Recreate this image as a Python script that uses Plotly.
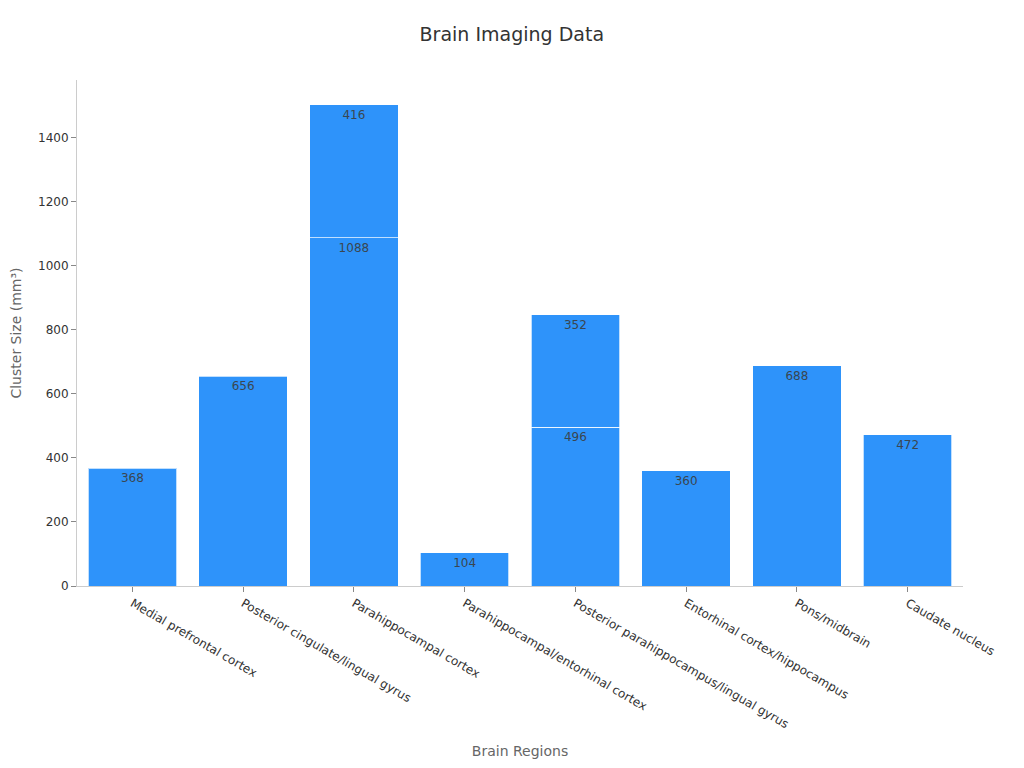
import plotly.graph_objects as go

regions = ["Medial prefrontal cortex", "Posterior cingulate/lingual gyrus",
           "Parahippocampal cortex", "Parahippocampal/entorhinal cortex",
           "Posterior parahippocampus/lingual gyrus", "Entorhinal cortex/hippocampus",
           "Pons/midbrain", "Caudate nucleus"]
cluster_a = [368, 656, 1088, 104, 496, 360, 688, 472]
cluster_b = [None, None, 416, None, 352, None, None, None]

bar_color = "#2e93fa"

fig = go.Figure()
for vals in (cluster_a, cluster_b):
    fig.add_trace(go.Bar(x=regions, y=vals,
                         marker_color=bar_color,
                         marker_line_color="rgba(255,255,255,0.7)",
                         marker_line_width=1,
                         text=vals,
                         textposition="inside",
                         insidetextanchor="end",
                         textangle=0,
                         textfont=dict(color="#3a4650", size=12),
                         showlegend=False))

# page has an 8px body margin, so the margins are shifted to compensate
fig.update_layout(barmode="stack",
                  bargap=0.2,
                  width=1024, height=768,
                  template="none",
                  paper_bgcolor="white", plot_bgcolor="white",
                  font=dict(family="DejaVu Sans", color="#333333"),
                  title=dict(text="Brain Imaging Data", x=0.492, xanchor="center",
                             y=0.975, font=dict(size=19, color="#333333")),
                  margin=dict(l=69, r=69, t=72, b=190),
                  xaxis=dict(tickangle=30, showline=True, linecolor="#cccccc",
                             ticks="outside", tickcolor="#888888", ticklen=5,
                             showgrid=False, tickfont=dict(size=12),
                             title=dict(text="Brain Regions", font=dict(size=14, color="#666666"),
                                        standoff=15)),
                  yaxis=dict(range=[0, 1581], showline=True, linecolor="#cccccc",
                             ticks="outside", tickcolor="#888888", ticklen=5,
                             showgrid=False, zeroline=False, tickfont=dict(size=12),
                             dtick=200,
                             title=dict(text="Cluster Size (mm³)", font=dict(size=14, color="#666666"),
                                        standoff=22)))

fig.write_html("out.html")
